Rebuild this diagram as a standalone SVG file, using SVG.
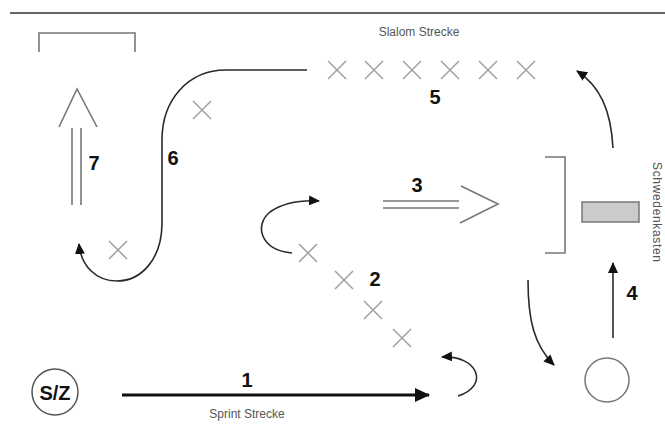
<svg xmlns="http://www.w3.org/2000/svg" width="665" height="425" viewBox="0 0 665 425">
<style>
.lbl{font-family:"Liberation Sans",Arial,sans-serif;font-weight:bold;font-size:20px;fill:#111;text-anchor:middle}
.small{font-family:"Liberation Sans",Arial,sans-serif;font-size:12px;fill:#555;text-anchor:middle}
.x{stroke:#a0a0a0;stroke-width:1.5;fill:none}
.gray{stroke:#777;stroke-width:1.6;fill:none}
.curve{stroke:#2a2a2a;stroke-width:1.6;fill:none;marker-end:url(#ah)}
</style>
<defs>
<marker id="ah" markerUnits="userSpaceOnUse" markerWidth="12" markerHeight="10" refX="10" refY="5" orient="auto">
<path d="M0,0 L11,5 L0,10 Z" fill="#111"/>
</marker>
<marker id="ahb" markerUnits="userSpaceOnUse" markerWidth="16" markerHeight="14" refX="14" refY="7" orient="auto">
<path d="M0,0 L15,7 L0,14 Z" fill="#111"/>
</marker>
<path id="xm" d="M-9,-9 L9,9 M-9,9 L9,-9"/>
</defs>
<rect width="665" height="425" fill="#fff"/>
<line x1="10" y1="13" x2="665" y2="13" stroke="#666" stroke-width="2"/>
<text class="small" x="419" y="36">Slalom Strecke</text>
<g id="goal"><path class="gray" d="M39,52 V33 H135 V52" stroke="#555"/></g>
<g id="arrow7">
<path class="gray" d="M59,127 L77,89 L97,127"/>
<line class="gray" x1="72" y1="128" x2="72" y2="205"/>
<line class="gray" x1="81" y1="128" x2="81" y2="205"/>
<text class="lbl" x="94" y="170">7</text>
</g>
<g id="cones">
<use href="#xm" class="x" x="202" y="110"/>
<use href="#xm" class="x" x="118" y="250"/>
<use href="#xm" class="x" x="337" y="70"/>
<use href="#xm" class="x" x="374" y="70"/>
<use href="#xm" class="x" x="412" y="70"/>
<use href="#xm" class="x" x="450" y="70"/>
<use href="#xm" class="x" x="488" y="70"/>
<use href="#xm" class="x" x="526" y="70"/>
<use href="#xm" class="x" x="308" y="253"/>
<use href="#xm" class="x" x="344" y="280"/>
<use href="#xm" class="x" x="373" y="310"/>
<use href="#xm" class="x" x="402" y="338"/>
</g>
<g id="arrow3">
<line class="gray" x1="383" y1="201" x2="459" y2="201"/>
<line class="gray" x1="383" y1="208" x2="459" y2="208"/>
<path class="gray" d="M461,186 L498,204 L460,223"/>
<text class="lbl" x="417" y="192">3</text>
</g>
<g id="bracket"><path class="gray" d="M545,157 H565 V253 H545" stroke="#666"/></g>
<g id="schwedenkasten">
<rect x="582" y="202" width="57" height="20" fill="#cbcbcb" stroke="#777" stroke-width="1.5"/>
<text class="small" transform="translate(653,212) rotate(90)" font-size="11" textLength="100">Schwedenkasten</text>
</g>
<g id="start">
<circle cx="55" cy="392" r="23" fill="none" stroke="#555" stroke-width="1.5"/>
<text class="lbl" x="55" y="400" font-size="22">S/Z</text>
</g>
<g id="marker-circle"><circle cx="607" cy="380" r="22" fill="none" stroke="#777" stroke-width="1.5"/></g>
<g id="connectors">
<path d="M307,70 H226 C188,70 162,100 162,140 V223 C162,258 142,281 117,281 C96,281 81,266 79,244" class="curve"/>
<path d="M292,253 C260,250 254,225 270,212 C283,203 300,200 319,201" class="curve"/>
<path d="M613,148 C611,110 600,86 577,71" class="curve"/>
<path d="M528,280 C528,320 534,345 554,365" class="curve"/>
<path d="M458,396 C490,386 478,355 442,357" class="curve"/>
<path d="M613,338 V263" class="curve" stroke="#666"/>
<path d="M122,395 H429" stroke="#111" stroke-width="3" fill="none" marker-end="url(#ahb)"/>
</g>
<text class="lbl" x="173" y="165">6</text>
<text class="lbl" x="435" y="104">5</text>
<text class="lbl" x="375" y="286">2</text>
<text class="lbl" x="632" y="300">4</text>
<text class="lbl" x="247" y="387">1</text>
<text class="small" x="247" y="418">Sprint Strecke</text>
</svg>
